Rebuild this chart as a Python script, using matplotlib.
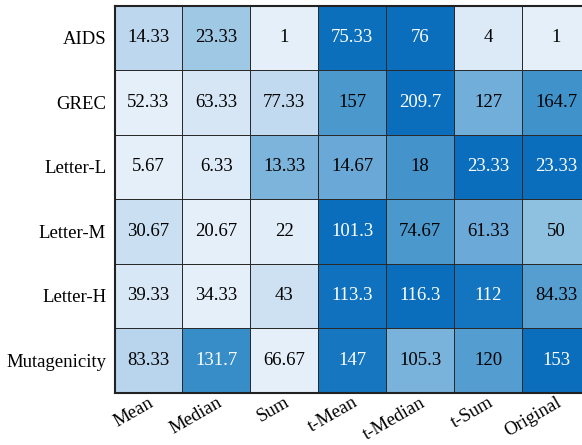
import numpy as np
import matplotlib
matplotlib.use('Agg')
import matplotlib.pyplot as plt
from matplotlib.colors import LinearSegmentedColormap

datasets = ['AIDS', 'GREC', 'Letter-L', 'Letter-M', 'Letter-H', 'Mutagenicity']
methods = ['Mean', 'Median', 'Sum', 't-Mean', 't-Median', 't-Sum', 'Original']

aids = [14.33, 23.33, 1, 75.33, 76, 4, 1]
grec = [52.33, 63.33, 77.33, 157, 209.7, 127, 164.7]
letter_l = [5.67, 6.33, 13.33, 14.67, 18, 23.33, 23.33]
letter_m = [30.67, 20.67, 22, 101.3, 74.67, 61.33, 50]
letter_h = [39.33, 34.33, 43, 113.3, 116.3, 112, 84.33]
mutag = [83.33, 131.7, 66.67, 147, 105.3, 120, 153]

vals = np.array([aids, grec, letter_l, letter_m, letter_h, mutag])

# colour is normalised per row
mn = vals.min(axis=1, keepdims=True)
mx = vals.max(axis=1, keepdims=True)
norm_vals = (vals - mn) / (mx - mn)

cmap = LinearSegmentedColormap.from_list('rowblues', [
    (0.0, '#e4eff9'), (0.1, '#cfe2f3'), (0.2, '#b7d4ec'), (0.35, '#92c2e1'),
    (0.5, '#6caad8'), (0.67, '#4a98cc'), (0.8, '#2d86c6'), (1.0, '#0a6ebc')])

plt.rcParams['font.family'] = ['Liberation Serif', 'DejaVu Serif']

fig = plt.figure(figsize=(5.82, 4.45), dpi=100)
ax = fig.add_axes([114.5 / 582, (445 - 392.5) / 445, (590 - 114.5) / 582, (392.5 - 5.5) / 445])

ax.pcolormesh(norm_vals, cmap=cmap, vmin=0, vmax=1, edgecolors='#2a2a2a', linewidth=0.6)
ax.set_xlim(0, len(methods))
ax.set_ylim(len(datasets), 0)

for i in range(len(datasets)):
    for j in range(len(methods)):
        v = vals[i, j]
        txt = ('%.2f' % v).rstrip('0').rstrip('.') if v < 100 else ('%.1f' % v).rstrip('0').rstrip('.')
        col = 'white' if norm_vals[i, j] > 0.73 else 'black'
        ax.text(j + 0.5, i + 0.5, txt, ha='center', va='center', fontsize=13.5, color=col)

ax.set_yticks(np.arange(len(datasets)) + 0.5)
ax.set_yticklabels(datasets, fontsize=13.5)
ax.set_xticks(np.arange(len(methods)) + 0.5)
ax.set_xticklabels(methods, fontsize=13.5, rotation=30, ha='right', rotation_mode='anchor')
ax.tick_params(length=0, pad=6)
ax.tick_params(axis='x', pad=1)

for s in ax.spines.values():
    s.set_linewidth(1.5)
    s.set_color('#222222')

fig.savefig('out.png', dpi=100)
